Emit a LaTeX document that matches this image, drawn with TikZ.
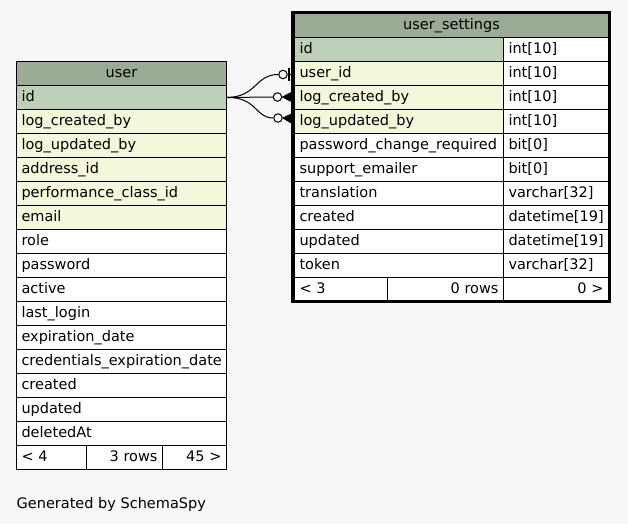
\documentclass[tikz,border=0pt]{standalone}
\usepackage{fontspec}
\usetikzlibrary{fit}
\newfontfamily\dvfont{DejaVu Sans}
\definecolor{bgc}{HTML}{F7F7F7}
\definecolor{headc}{HTML}{9BAB96}
\definecolor{pkc}{HTML}{BED1B8}
\definecolor{fkc}{HTML}{F4F7DA}
\tikzset{
  cell/.style={draw=black, line width=1pt, fill=white, anchor=north west,
    minimum height=24pt, inner xsep=5pt, inner ysep=0pt,
    text height=11pt, text depth=3pt,
    font=\dvfont\fontsize{14.5}{17}\selectfont},
  lw/.style={text width=#1, align=left},
  rw/.style={text width=#1, align=right},
  cw/.style={text width=#1, align=center},
  hd/.style={fill=headc},
  pk/.style={fill=pkc},
  fk/.style={fill=fkc},
  frame/.style={draw=black, line width=3pt, inner sep=0pt},
  odot/.style={circle, draw=black, line width=1pt, fill=bgc, minimum size=8.5pt, inner sep=0pt},
  conn/.style={draw=black, line width=1pt},
  crow/.style={fill=black, draw=black, line width=0.6pt, line join=miter},
  note/.style={anchor=base west, inner sep=0pt, font=\dvfont\fontsize{14.5}{17}\selectfont}
}
\begin{document}
\begin{tikzpicture}[x=1pt,y=-1pt]
\fill[bgc] (0,0) rectangle (628,524);
\useasboundingbox (0,0) rectangle (628,524);

% ---- user table ----
\node[cell,hd,cw=200pt] (u-head) at (16,61) {user};
\node[cell,pk,lw=200pt] (u-id) at (16,85) {id};
\node[cell,fk,lw=200pt] (u-lcb) at (16,109) {log\_created\_by};
\node[cell,fk,lw=200pt] (u-lub) at (16,133) {log\_updated\_by};
\node[cell,fk,lw=200pt] (u-addr) at (16,157) {address\_id};
\node[cell,fk,lw=200pt] (u-perf) at (16,181) {performance\_class\_id};
\node[cell,fk,lw=200pt] (u-email) at (16,205) {email};
\node[cell,lw=200pt] (u-role) at (16,229) {role};
\node[cell,lw=200pt] (u-pw) at (16,253) {password};
\node[cell,lw=200pt] (u-active) at (16,277) {active};
\node[cell,lw=200pt] (u-last) at (16,301) {last\_login};
\node[cell,lw=200pt] (u-exp) at (16,325) {expiration\_date};
\node[cell,lw=200pt] (u-cexp) at (16,349) {credentials\_expiration\_date};
\node[cell,lw=200pt] (u-created) at (16,373) {created};
\node[cell,lw=200pt] (u-updated) at (16,397) {updated};
\node[cell,lw=200pt] (u-del) at (16,421) {deletedAt};
\node[cell,lw=60pt] (u-f1) at (16,445) {< 4};
\node[cell,rw=66pt] (u-f2) at (86,445) {3 rows};
\node[cell,rw=54pt] (u-f3) at (162,445) {45 >};

% ---- user_settings table ----
\node[cell,hd,cw=304pt] (s-head) at (294,13) {user\_settings};
\node[cell,pk,lw=199pt] (s-id) at (294,37) {id};
\node[cell,lw=95pt] (s-id-t) at (503,37) {int[10]};
\node[cell,fk,lw=199pt] (s-uid) at (294,61) {user\_id};
\node[cell,lw=95pt] (s-uid-t) at (503,61) {int[10]};
\node[cell,fk,lw=199pt] (s-lcb) at (294,85) {log\_created\_by};
\node[cell,lw=95pt] (s-lcb-t) at (503,85) {int[10]};
\node[cell,fk,lw=199pt] (s-lub) at (294,109) {log\_updated\_by};
\node[cell,lw=95pt] (s-lub-t) at (503,109) {int[10]};
\node[cell,lw=199pt] (s-pcr) at (294,133) {password\_change\_required};
\node[cell,lw=95pt] (s-pcr-t) at (503,133) {bit[0]};
\node[cell,lw=199pt] (s-se) at (294,157) {support\_emailer};
\node[cell,lw=95pt] (s-se-t) at (503,157) {bit[0]};
\node[cell,lw=199pt] (s-tr) at (294,181) {translation};
\node[cell,lw=95pt] (s-tr-t) at (503,181) {varchar[32]};
\node[cell,lw=199pt] (s-cr) at (294,205) {created};
\node[cell,lw=95pt] (s-cr-t) at (503,205) {datetime[19]};
\node[cell,lw=199pt] (s-up) at (294,229) {updated};
\node[cell,lw=95pt] (s-up-t) at (503,229) {datetime[19]};
\node[cell,lw=199pt] (s-tok) at (294,253) {token};
\node[cell,lw=95pt] (s-tok-t) at (503,253) {varchar[32]};
\node[cell,lw=83pt] (s-f1) at (294,277) {< 3};
\node[cell,rw=106pt] (s-f2) at (387,277) {0 rows};
\node[cell,rw=95pt] (s-f3) at (503,277) {0 >};
\node[frame, fit={(292.5,12.5) (609.5,301.5)}] (s-frame) {};

% ---- relationship ends ----
\node[odot] (o1) at (283,74.5) {};
\node[odot] (o2) at (277.5,97) {};
\node[odot] (o3) at (278,118) {};

\draw[conn] (u-id.east) .. controls (257,97) and (255,74.5) .. (o1.west);
\draw[conn] (u-id.east) -- (o2.west);
\draw[conn] (u-id.east) .. controls (257,97) and (255,118) .. (o3.west);

\draw[conn] (o1.east) -- (o1.east -| s-frame.west);
\draw[line width=2pt] (289,68) -- (289,81);
\draw[crow] (o2.east) -- (291,92.5) -- (291,101.5) -- cycle;
\draw[crow] (o3.east) -- (291,114) -- (291,123) -- cycle;

\node[note] (gen) at (16.5,508) {Generated by SchemaSpy};
\end{tikzpicture}
\end{document}
